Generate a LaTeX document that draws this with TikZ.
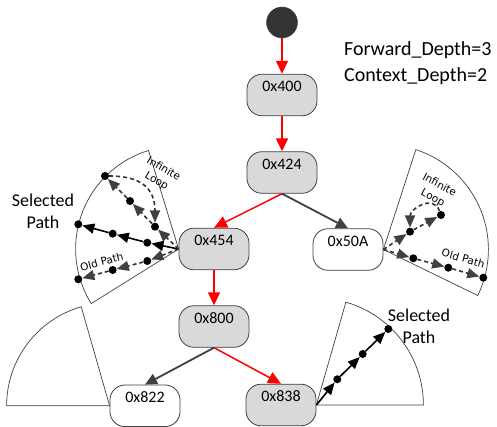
\documentclass[tikz,border=0pt]{standalone}
\usepackage{fontspec}
\setmainfont{Carlito}
\newfontfamily\tagfont{DejaVu Sans}
\usetikzlibrary{arrows.meta}

\begin{document}
\begin{tikzpicture}[
  x=1pt, y=1pt,
  block/.style={draw=black!75,fill=white,line width=0.8pt,rounded corners=15pt,minimum width=70pt,minimum height=41.6pt,inner sep=2pt,text height=15.8pt,text depth=21.8pt,font=\fontsize{16}{19}\selectfont},  sblock/.style={block,fill=black!15},  dotv/.style={circle,fill=black,inner sep=0pt,minimum size=8pt},
  redge/.style={red,line width=1.5pt,-{Triangle[length=13pt,width=12pt]}},  gedge/.style={black!75,line width=1.8pt,-{Triangle[length=12pt,width=11pt]}},
  spath/.style={black,line width=1.6pt,-{Triangle[length=12pt,width=10pt]}},  opath/.style={black!80,line width=1.6pt,dash pattern=on 4pt off 3pt,-{Triangle[length=12pt,width=10pt,color=black!75]}},
  sector/.style={draw=black!75,line width=0.7pt},
  tag/.style={font=\tagfont\fontsize{10.5}{14}\selectfont,align=center,inner sep=0pt},  sel/.style={font=\fontsize{18}{22}\selectfont,align=center,inner sep=0pt}
]
  \useasboundingbox (0,0) rectangle (497,427);
  \node[circle,fill=black!80,draw=black!75,minimum size=31pt,inner sep=0pt] (s0) at (282.000,404.500) {};
  \node[sblock] (n400) at (282.000,332.000) {0x400};
  \node[sblock] (n424) at (282.000,254.500) {0x424};
  \node[sblock] (n454) at (214.000,178.000) {0x454};
  \node[block] (n50A) at (348.000,177.500) {0x50A};
  \node[sblock] (n800) at (214.000,100.500) {0x800};
  \node[block] (n822) at (145.000,21.200) {0x822};
  \node[sblock] (n838) at (281.000,22.000) {0x838};
  \node[anchor=west,align=left,inner sep=0pt,font=\fontsize{20}{26}\selectfont] (depth) at (344.000,364.000) {Forward\_Depth=3\\Context\_Depth=2};
  \draw[redge] (s0) -- (n400);
  \draw[redge] (n400) -- (n424);
  \draw[redge] (n424.south) -- (n454.north);
  \draw[gedge] (n424.south) -- (n50A.north);
  \draw[redge] (n454) -- (n800);
  \draw[gedge] (n800.south) -- (n822.north);
  \draw[redge] (n800.south) -- (n838.north);
  \draw[sector] (n454.west) -- ++(107:103) arc[start angle=107,end angle=212,radius=103] -- cycle;
  \draw[sector] (n50A.east) -- ++(-26:105) arc[start angle=-26,end angle=72,radius=105] -- cycle;
  \draw[sector] (n822.west) -- ++(106:103) arc[start angle=106,end angle=180,radius=103] -- cycle;
  \draw[sector] (n838.east) -- ++(0:107) arc[start angle=0,end angle=74,radius=107] -- cycle;
  \node[dotv] (s1) at (147.300,184.300) {};
  \node[dotv] (s2) at (112.700,193.300) {};
  \node[dotv] (s3) at (78.300,202.700) {};
  \node[dotv] (l1) at (155.000,200.300) {};
  \node[dotv] (l2) at (130.000,226.000) {};
  \node[dotv] (l3) at (105.000,251.000) {};
  \node[dotv] (o1) at (147.300,166.000) {};
  \node[dotv] (o2) at (112.700,157.000) {};
  \node[dotv] (o3) at (78.300,147.700) {};
  \node[dotv] (r1) at (410.000,195.300) {};
  \node[dotv] (r2) at (441.000,212.000) {};
  \node[dotv] (p1) at (413.300,168.700) {};
  \node[dotv] (p2) at (448.300,159.300) {};
  \node[dotv] (p3) at (483.300,149.300) {};
  \node[dotv] (b1) at (337.300,47.700) {};
  \node[dotv] (b2) at (362.700,73.000) {};
  \node[dotv] (b3) at (388.300,98.000) {};
  \draw[spath] (n454.west) -- (s1);
  \draw[spath] (s1) -- (s2);
  \draw[spath] (s2) -- (s3);
  \draw[opath] (n454.west) -- (l1);
  \draw[opath] (l1) -- (l2);
  \draw[opath] (l2) -- (l3);
  \draw[opath] (l3) to[out=0,in=90,looseness=1.3] (l1);
  \draw[opath] (n454.west) -- (o1);
  \draw[opath] (o1) -- (o2);
  \draw[opath] (o2) -- (o3);
  \draw[opath] (n50A.east) -- (r1);
  \draw[opath] (r1) -- (r2);
  \draw[opath] (r2) to[out=110,in=90,looseness=1.4] (r1);
  \draw[opath] (n50A.east) -- (p1);
  \draw[opath] (p1) -- (p2);
  \draw[opath] (p2) -- (p3);
  \draw[spath] (n838.east) -- (b1);
  \draw[spath] (b1) -- (b2);
  \draw[spath] (b2) -- (b3);
  \node[tag,rotate=-30] (loopl) at (160.000,251.700) {Infinite\\Loop};
  \node[tag,rotate=-28] (loopr) at (436.000,235.400) {Infinite\\Loop};
  \node[tag,rotate=15] (oldl) at (101.700,165.300) {Old Path};
  \node[tag,rotate=-16] (oldr) at (463.300,168.700) {Old Path};
  \node[sel] (sell) at (43.000,216.000) {Selected\\Path};
  \node[sel] (selr) at (419.000,101.000) {Selected\\Path};
\end{tikzpicture}
\end{document}
